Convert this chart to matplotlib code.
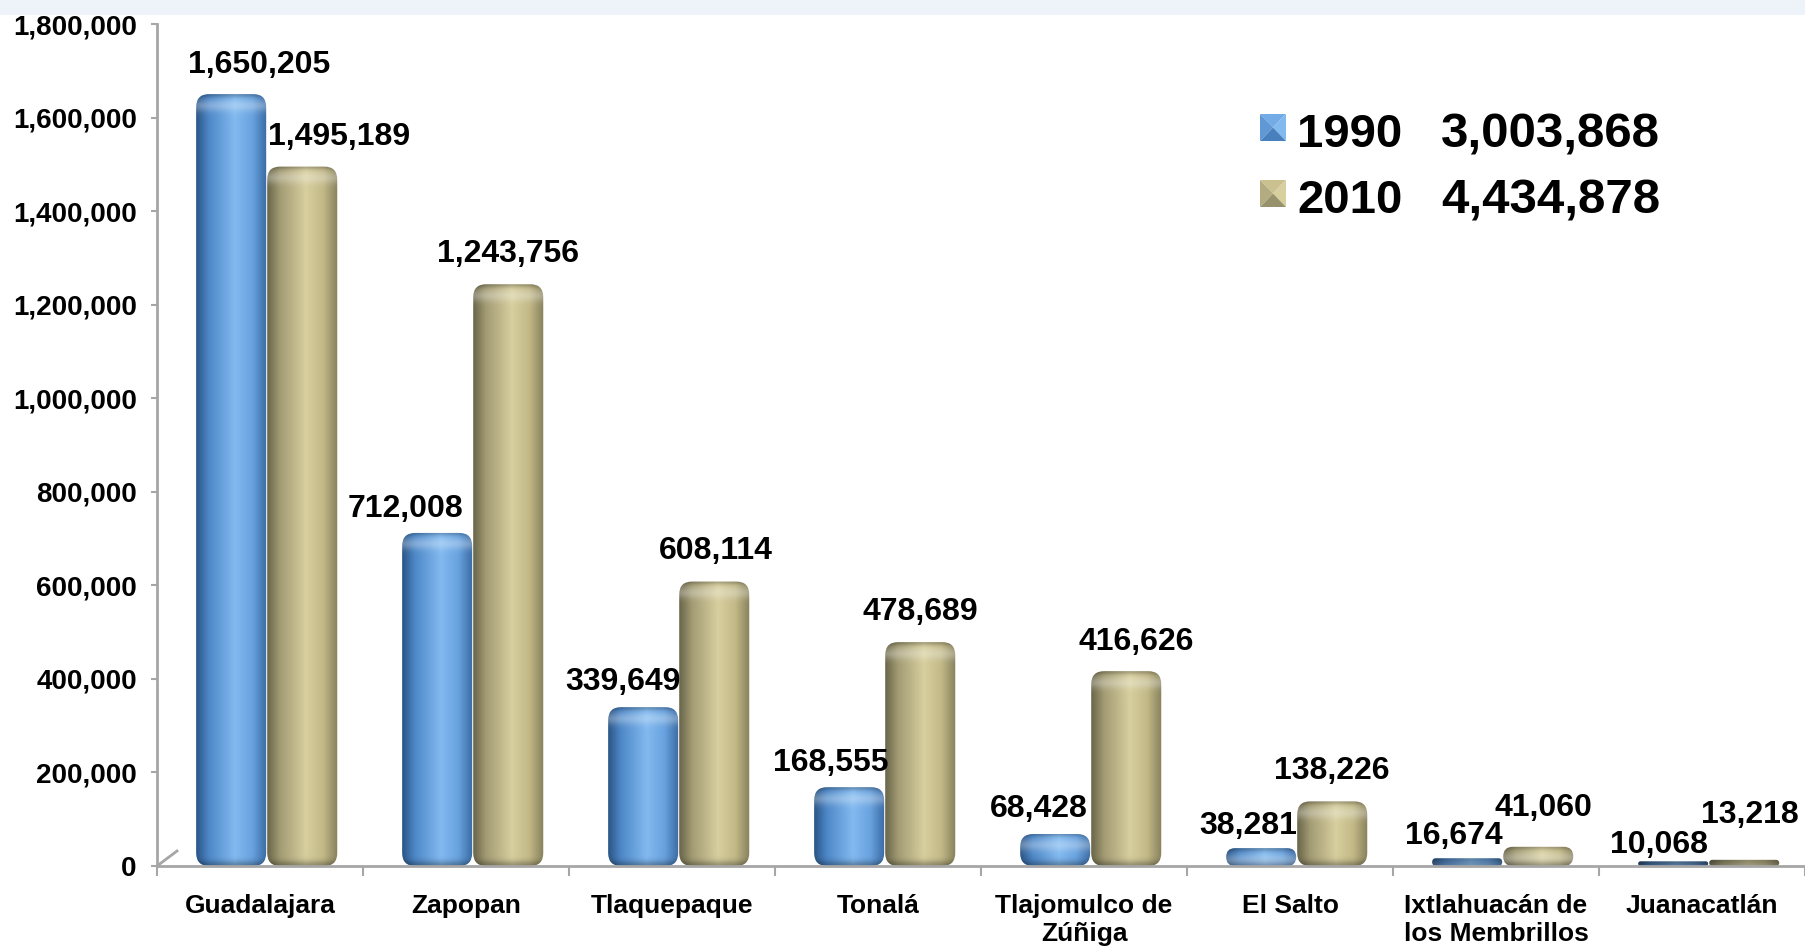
import numpy as np
import matplotlib.pyplot as plt
from matplotlib.patches import FancyBboxPatch, Polygon, Rectangle
from matplotlib.colors import LinearSegmentedColormap
from matplotlib.ticker import StrMethodFormatter, FixedLocator

plt.rcParams['font.family'] = ['Liberation Sans', 'DejaVu Sans']
plt.rcParams['font.weight'] = 'bold'

municipios = ['Guadalajara', 'Zapopan', 'Tlaquepaque', 'Tonalá',
              'Tlajomulco de\nZúñiga', 'El Salto',
              'Ixtlahuacán de\nlos Membrillos', 'Juanacatlán']
pob_1990 = [1650205, 712008, 339649, 168555, 68428, 38281, 16674, 10068]
pob_2010 = [1495189, 1243756, 608114, 478689, 416626, 138226, 41060, 13218]
years = ['1990', '2010']
yticks = np.arange(0, 1800001, 200000)

# where each value label sits, in pixels from the top centre of its bar
nudge_1990 = [(28, 29), (-32, 24), (-20, 25), (-18, 24), (-16, 25), (-13, 22), (-13, 22), (-14, 16)]
nudge_2010 = [(37, 30), (0, 30), (2, 31), (0, 30), (10, 29), (0, 30), (5, 39), (6, 45)]

blue_stops = [(0, '#2b5687'), (0.18, '#4e88c8'), (0.55, '#82baf0'), (0.8, '#68a2df'), (1, '#3b6ca5')]
tan_stops = [(0, '#6a664a'), (0.18, '#a29b73'), (0.55, '#d8cf9f'), (0.8, '#c2b887'), (1, '#88825d')]

W, H, DPI = 1805, 950, 100
fig = plt.figure(figsize=(W / DPI, H / DPI), dpi=DPI)
fig.patch.set_facecolor('white')
# faint strip along the top edge
fig.add_artist(Rectangle((0, 0.984), 1, 0.016, transform=fig.transFigure,
                         facecolor='#eef2f9', edgecolor='none', zorder=0))

ax = fig.add_axes([157 / W, 84 / H, 1 - 157 / W, 842 / H])
ax.set_facecolor('none')
ax.set_xlim(-0.5, len(municipios) - 0.5)
ax.set_ylim(0, 1800000)

pos = ax.get_position()
x_per_px = (len(municipios)) / (pos.width * W)
y_per_px = 1800000 / (pos.height * H)
m_aspect = y_per_px / x_per_px

x = np.arange(len(municipios))
bw = 0.34
shift = 0.03
bars_a = ax.bar(x - bw / 2 + shift, pob_1990, bw, color='none', edgecolor='none')
bars_b = ax.bar(x + bw / 2 + shift + 0.005, pob_2010, bw, color='none', edgecolor='none')


def cylinder(rect, stops):
    x0, w, h = rect.get_x(), rect.get_width(), rect.get_height()
    h_px = h / y_per_px
    r = min(13 * x_per_px, w / 2, h / m_aspect / 2)
    patch = FancyBboxPatch((x0, 0), w, h, boxstyle=f'round,pad=0,rounding_size={r}',
                           mutation_aspect=m_aspect, facecolor='none',
                           edgecolor='none', zorder=3)
    ax.add_patch(patch)
    cmap = LinearSegmentedColormap.from_list('c', stops)
    horiz = cmap(np.linspace(0, 1, 80))[:, :3]
    ny = max(int(h_px), 2)
    d_top = np.arange(ny)[::-1].astype(float)
    d_bot = np.arange(ny).astype(float)
    band = np.exp(-((d_top - 11) / 6) ** 2)
    dark = 0.22 * np.exp(-(d_top / 3) ** 2) + 0.28 * np.exp(-(d_bot / 5) ** 2)
    img = horiz[None, :, :] * (1 - dark[:, None, None])
    img = img + (1 - img) * 0.28 * band[:, None, None]
    img = np.clip(img, 0, 1)
    im = ax.imshow(img, extent=(x0, x0 + w, 0, h), origin='lower', aspect='auto',
                   interpolation='bilinear', zorder=2)
    im.set_clip_path(patch)


for rect in bars_a:
    cylinder(rect, blue_stops)
for rect in bars_b:
    cylinder(rect, tan_stops)

for bars, vals, nudges in [(bars_a, pob_1990, nudge_1990), (bars_b, pob_2010, nudge_2010)]:
    for rect, v, (dx, dy) in zip(bars, vals, nudges):
        ax.annotate(f'{v:,}', (rect.get_x() + rect.get_width() / 2, v),
                    xytext=(dx, dy), textcoords='offset pixels',
                    ha='center', va='center', fontsize=23, fontweight='bold',
                    color='black', zorder=5)

ax.set_xlim(-0.5, len(municipios) - 0.5)
ax.set_ylim(0, 1800000)

axis_grey = '#a6a6a6'
for side in ['top', 'right']:
    ax.spines[side].set_visible(False)
for side in ['left', 'bottom']:
    ax.spines[side].set_color(axis_grey)
    ax.spines[side].set_linewidth(2)

ax.set_yticks(yticks)
ax.yaxis.set_major_formatter(StrMethodFormatter('{x:,.0f}'))
ax.tick_params(axis='y', length=4.5, width=1.5, color=axis_grey, pad=10,
               labelsize=20, labelcolor='black')
ax.set_xticks(x)
ax.set_xticklabels(municipios, fontsize=19, fontweight='bold', linespacing=1.2)
ax.xaxis.set_minor_locator(FixedLocator(np.arange(-0.5, len(municipios), 1.0)))
ax.tick_params(axis='x', which='major', length=0, pad=20)
ax.tick_params(axis='x', which='minor', length=7, width=1.5, color=axis_grey)
for lab in ax.get_yticklabels():
    lab.set_fontweight('bold')

# little floor edge at the corner
ax.plot([-0.5, -0.5 + 20 * x_per_px], [0, 15 * y_per_px], color=axis_grey, lw=2,
        clip_on=False, zorder=1)

# legend with totals
totals = [sum(pob_1990), sum(pob_2010)]
sq_rows = [114, 180]
sq_sets = [blue_stops, tan_stops]
for yr, tot, top, stops in zip(years, totals, sq_rows, sq_sets):
    cm = LinearSegmentedColormap.from_list('c', stops)
    x0, x1 = 1260 / W, 1286 / W
    y1, y0 = 1 - top / H, 1 - (top + 27) / H
    cx, cy = (x0 + x1) / 2, (y0 + y1) / 2
    faces = [([(x0, y1), (x1, y1), (cx, cy)], cm(0.7)),
             ([(x1, y1), (x1, y0), (cx, cy)], cm(0.55)),
             ([(x0, y0), (x1, y0), (cx, cy)], cm(0.15)),
             ([(x0, y1), (x0, y0), (cx, cy)], cm(0.3))]
    for pts, col in faces:
        fig.add_artist(Polygon(pts, closed=True, transform=fig.transFigure,
                               facecolor=col, edgecolor='none'))
    fig.text(1297 / W, 1 - (top + 21) / H, yr, fontsize=34, fontweight='bold',
             ha='left', va='center')
    fig.text(1441 / W, 1 - (top + 21) / H, f'{tot:,}', fontsize=35.5, fontweight='bold',
             ha='left', va='center')

fig.savefig('out.png', dpi=DPI)
